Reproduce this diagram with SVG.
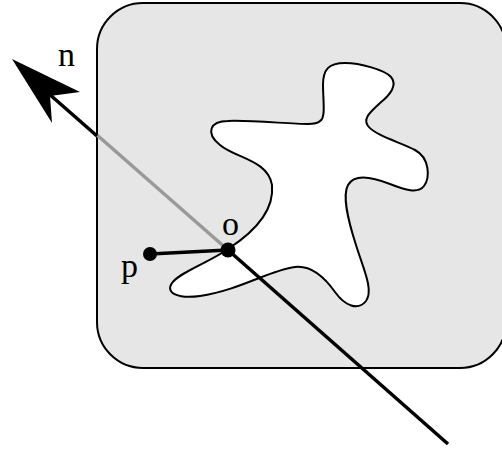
<svg xmlns="http://www.w3.org/2000/svg" width="502" height="451" viewBox="0 0 502 451">
<style>
.lbl{font-family:"Liberation Serif","Times New Roman",serif;font-size:34px;fill:#000}
.ln{fill:none;stroke:#000;stroke-width:3.5;stroke-linecap:butt}
.gr{fill:none;stroke:#999;stroke-width:3.5}
.dot{fill:#000}
</style>
<rect width="502" height="451" fill="#fff"/>
<g id="region">
<rect x="97" y="3" width="409" height="365" rx="46" ry="46" fill="#e6e6e6" stroke="#000" stroke-width="2"/>
</g>
<g id="shape">
<path d="M320,121 C326,118 323,100 323,85 C323,70 328,63 345,63 C360,63 385,70 391,77 C398,85 390,95 380,103 C372,111 362,118 368,126 C376,136 400,142 415,150 C430,158 430,178 424,186 C418,194 405,190 390,184 C375,178 355,172 348,185 C342,196 348,220 356,245 C363,268 374,290 366,301 C358,311 345,306 335,292 C325,278 312,265 295,267 C270,270 240,290 200,296 C178,299 165,293 172,283 C180,272 210,262 228,249 C245,238 275,215 272,185 C268,160 235,158 220,145 C205,133 210,121 228,121 C250,120 290,124 308,124 C315,124 318,123 320,121 Z" fill="#fff" stroke="#000" stroke-width="2"/>
</g>
<g id="connectors">
<path class="gr" d="M97,135 L228,250"/>
<path class="ln" d="M48,93 L97,136"/>
<path class="ln" d="M228,250 L448,444"/>
<polygon points="12,59 80,92 50,96 52,123" fill="#000"/>
<path class="ln" d="M150,254 L228,250"/>
</g>
<g id="p">
<circle class="dot" cx="150" cy="254" r="7"/>
<text class="lbl" x="121" y="277">p</text>
</g>
<g id="o">
<circle class="dot" cx="228" cy="250" r="7.5"/>
<text class="lbl" x="222" y="235">o</text>
</g>
<g id="n">
<text class="lbl" x="58" y="66">n</text>
</g>
</svg>
